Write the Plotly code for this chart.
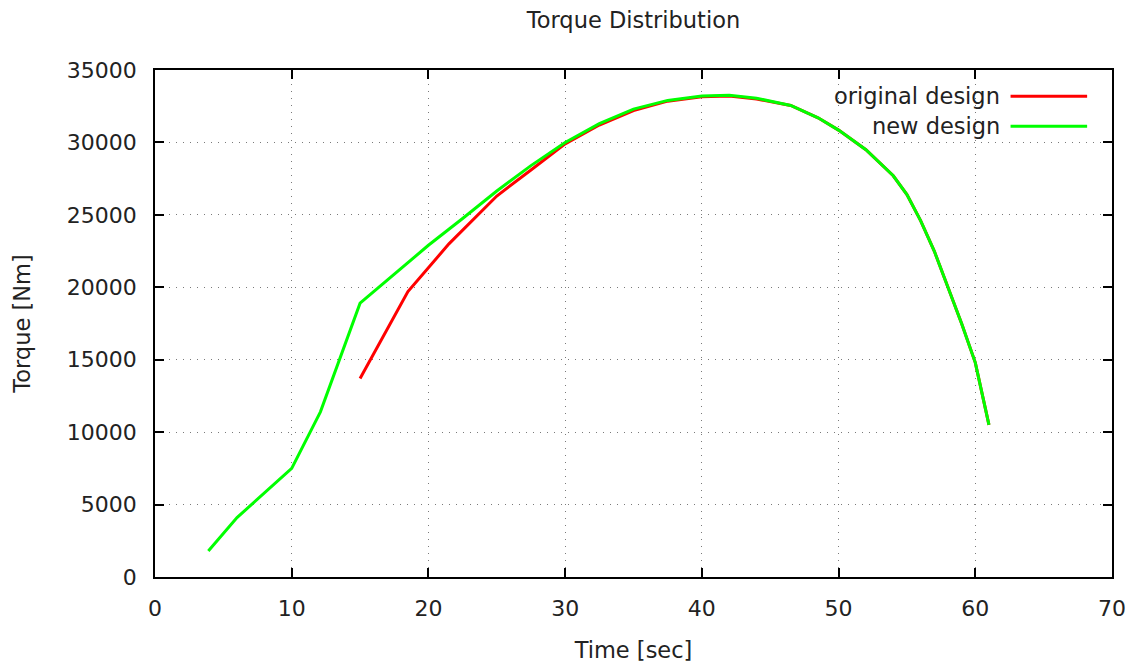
import plotly.graph_objects as go

# Data
orig_time = [15, 18.5, 21.5, 25, 27.5, 30, 32.5, 35, 37.5, 40, 42, 44, 46.5, 48.5,
             50, 52, 54, 55, 56, 57, 58, 59, 60, 61]
orig_torque = [13700, 19700, 23000, 26300, 28100, 29900, 31200, 32200, 32850, 33150,
               33200, 33000, 32550, 31700, 30850, 29500, 27700, 26400, 24600, 22500,
               20000, 17500, 14800, 10500]

new_time = [3.9, 6, 10, 12.1, 15, 20, 22.5, 25, 27.5, 30, 32.5, 35, 37.5, 40, 42, 44,
            46.5, 48.5, 50, 52, 54, 55, 56, 57, 58, 59, 60, 61]
new_torque = [1800, 4100, 7500, 11400, 18900, 22900, 24750, 26650, 28400, 30000, 31300,
              32300, 32900, 33200, 33250, 33050, 32550, 31700, 30850, 29500, 27700,
              26400, 24600, 22500, 20000, 17500, 14800, 10500]

series_names = ["original design", "new design"]
series_colors = ["#ff0000", "#00ff00"]

x_ticks = [0, 10, 20, 30, 40, 50, 60, 70]
y_ticks = [0, 5000, 10000, 15000, 20000, 25000, 30000, 35000]

FONT = "DejaVu Sans"
FS = 22.5
TFS = 22

# the page body adds an 8px margin, so the figure is sized to compensate
W, H = 1128, 655
L, R, T, B = 147, 24, 62, 86

fig = go.Figure()
fig.add_trace(go.Scatter(x=orig_time, y=orig_torque, mode="lines", name=series_names[0],
                         line=dict(color=series_colors[0], width=3), showlegend=False))
fig.add_trace(go.Scatter(x=new_time, y=new_torque, mode="lines", name=series_names[1],
                         line=dict(color=series_colors[1], width=3), showlegend=False))

axis_common = dict(
    showline=True, linecolor="black", linewidth=1.5, mirror="ticks",
    ticks="inside", ticklen=9, tickwidth=1.5, tickcolor="black",
    showgrid=True, gridcolor="#7a7a7a", gridwidth=1, griddash="1px,6px",
    zeroline=False, automargin=False,
    tickfont=dict(family=FONT, size=TFS, color="#222222"),
)

fig.update_xaxes(range=[0, 70], tickvals=x_ticks, ticktext=[str(v) for v in x_ticks],
                 ticklabelstandoff=11,
                 title=dict(text="Time [sec]", font=dict(family=FONT, size=FS, color="#222222"),
                            standoff=33),
                 **axis_common)
fig.update_yaxes(range=[0, 35000], tickvals=y_ticks, ticktext=[str(v) for v in y_ticks],
                 ticklabelstandoff=12,
                 title=dict(text="Torque [Nm]", font=dict(family=FONT, size=FS, color="#222222"),
                            standoff=30),
                 **axis_common)

# white area behind the key (gnuplot clears grid behind the legend)
fig.add_shape(type="rect", xref="paper", yref="paper", x0=0.655, x1=0.985, y0=0.857, y1=1.0,
              fillcolor="white", line=dict(width=0), layer="between")

# key: right-aligned text, line sample to the right
key_y = [0.948, 0.889]
for name, color, yy in zip(series_names, series_colors, key_y):
    fig.add_annotation(xref="paper", yref="paper", x=0.885, y=yy, text=name,
                       showarrow=False, xanchor="right", yanchor="middle",
                       font=dict(family=FONT, size=FS, color="#222222"))
    fig.add_shape(type="line", xref="paper", yref="paper", x0=0.894, x1=0.974, y0=yy, y1=yy,
                  line=dict(color=color, width=3), layer="above")

fig.update_layout(
    width=W, height=H,
    margin=dict(l=L, r=R, t=T, b=B),
    paper_bgcolor="white", plot_bgcolor="white",
    title=dict(text="Torque Distribution", x=0.5, xref="paper", y=1 - 12 / H,
               yref="container", yanchor="middle", xanchor="center",
               font=dict(family=FONT, size=FS, color="#222222")),
    showlegend=False,
)

fig.write_html("out.html")
